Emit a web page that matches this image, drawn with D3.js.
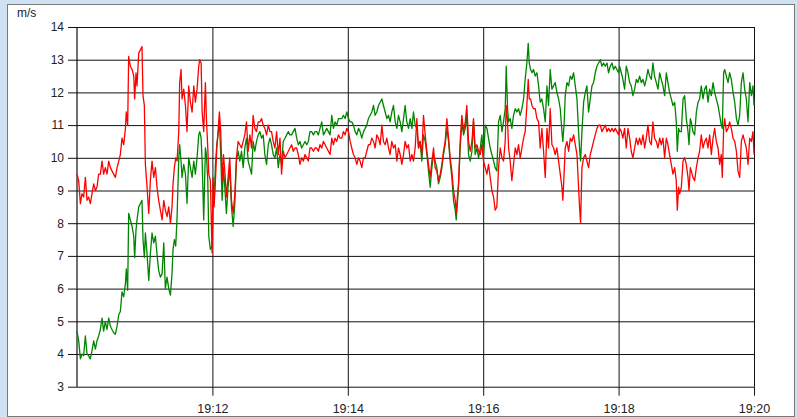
<!DOCTYPE html>
<html><head><meta charset="utf-8">
<script src="https://cdn.jsdelivr.net/npm/d3@7"></script>
<style>
html,body{margin:0;padding:0;background:#cfe2f3;overflow:hidden;}
svg{display:block;}
text{font-family:"Liberation Sans",Arial,Helvetica,sans-serif;}
</style></head><body>
<svg id="chart" width="797" height="417"></svg>
<script>
// ---- data (seconds after 19:10:00) ----
const startTime = "19:10";
const endTime = "19:20";
const unitLabel = "m/s";
const yTicks = [3,4,5,6,7,8,9,10,11,12,13,14];
const xTickLabels = ["19:12","19:14","19:16","19:18","19:20"];

const seconds = [
0,1.5,3.0,4.4,5.9,7.4,8.9,10.3,11.8,13.3,14.8,16.3,17.7,19.2,20.7,22.2,23.6,25.1,26.6,28.1,29.6,31.0,32.5,34.0,35.5,37.0,38.4,39.9,41.4,42.9,
43.7,44.9,45.8,47.3,48.8,50.3,51.1,52.3,53.2,54.7,56.2,57.6,58.5,59.7,60.6,
62.1,63.6,65.0,66.5,68.0,69.5,70.9,72.4,73.9,75.4,76.9,78.3,79.8,81.3,82.8,84.2,
85.1,86.3,87.5,88.7,90.2,91.0,92.2,93.1,
94.6,96.1,97.5,99.0,100.5,102.0,103.5,104.9,106.4,107.9,
108.8,110.0,110.9,112.3,113.8,114.7,115.9,116.8,118.2,119.7,
120.6,121.5,122.7,123.9,125.0,126.2,127.4,128.6,129.8,131.0,
132.4,133.9,135.4,136.9,138.4,
139.9,141.3,142.8,144.3,145.8,147.3,148.7,150.2,151.7,153.2,154.7,156.1,157.6,159.1,160.6,162.1,163.6,165.0,166.5,168.0,169.5,171.0,172.4,173.9,175.4,176.9,178.4,179.9,181.3,182.8,184.3,185.8,187.3,188.7,190.2,191.7,193.2,194.7,196.1,197.6,199.1,200.6,202.1,203.6,205.0,206.5,208.0,209.5,211.0,212.4,213.9,215.4,216.9,218.4,219.9,221.3,222.8,224.3,225.8,227.3,228.7,230.2,231.7,233.2,234.7,236.1,237.6,239.1,
240.6,242.1,243.5,245.0,246.5,248.0,249.5,250.9,252.4,253.9,255.4,256.8,258.3,259.8,261.3,262.8,264.2,265.7,267.2,268.7,270.2,271.6,273.1,274.6,276.1,277.5,279.0,280.5,282.0,283.5,284.9,286.4,287.9,289.4,290.8,292.3,293.8,295.3,296.8,298.2,299.7,301.2,302.7,304.1,305.6,307.1,308.6,310.1,311.5,313.0,314.5,316.0,317.4,318.9,320.4,321.9,323.4,324.8,326.3,327.8,329.3,330.7,332.2,333.7,335.2,
336.1,337.3,
338.1,339.6,341.1,342.6,344.1,345.5,347.0,348.5,350.0,351.4,352.9,354.4,355.9,357.4,358.8,
360.3,361.8,363.3,364.7,366.2,367.7,369.2,370.6,372.1,373.6,375.1,376.6,378.0,379.5,
380.4,381.6,
382.5,383.9,385.4,386.9,388.4,389.9,391.3,392.8,394.3,395.8,397.2,398.7,
399.9,400.8,402.0,
403.2,404.6,406.1,407.6,409.1,410.5,412.0,413.5,415.0,416.5,417.9,419.4,420.9,422.4,423.8,425.3,426.8,428.3,429.8,
430.6,431.8,
432.7,434.2,435.7,437.2,438.6,440.1,441.6,443.1,444.5,
445.4,446.3,
447.5,449.0,450.5,451.9,453.4,454.9,456.4,457.8,459.3,460.8,462.3,463.8,465.2,466.7,468.2,469.7,471.1,472.6,474.1,475.6,477.0,478.5,480.0,
480.9,482.4,483.8,485.3,486.8,488.3,489.8,491.2,492.7,494.2,495.7,497.1,498.6,500.1,501.6,503.1,504.5,506.0,507.5,509.0,510.4,511.9,513.4,514.9,516.4,517.8,519.3,520.8,522.3,523.7,525.2,526.7,528.2,529.7,531.1,
532.0,533.2,
534.1,535.6,537.1,538.5,540.0,541.5,
542.4,543.6,
544.4,545.9,547.4,548.9,550.4,551.8,553.3,554.8,556.3,557.7,559.2,560.7,562.2,563.7,565.1,566.6,568.1,569.6,571.0,
571.9,573.1,
574.0,575.5,577.0,578.4,579.9,581.4,582.9,584.4,585.8,587.3,588.8,590.3,591.7,593.2,594.7,596.2,597.7,599.1,
600.0
];

const red = [
9.5,9.3,8.6,8.9,8.8,9.4,8.7,8.8,8.6,8.9,9.2,9.0,9.1,9.5,9.5,9.9,9.5,9.7,9.5,9.9,9.7,9.6,9.5,9.4,9.7,9.9,10.1,10.6,10.4,10.9,
11.4,11.0,13.1,12.8,12.7,12.5,11.8,12.6,12.2,13.2,13.3,13.4,11.9,11.6,9.8,
9.1,8.3,9.3,9.9,9.4,9.7,9.1,8.7,8.4,8.1,8.7,8.4,8.2,8.5,8.0,8.5,
9.2,9.7,10.0,9.9,10.8,12.3,12.7,11.8,
12.1,11.6,10.8,12.2,11.7,11.4,12.2,11.7,12.1,12.8,
13.0,12.9,11.4,10.8,12.3,11.2,10.3,9.5,9.3,7.1,
9.4,8.5,9.3,10.3,10.8,11.4,10.8,9.3,10.1,9.6,
8.8,9.4,10.0,8.7,8.3,
8.9,10.0,10.5,10.4,10.3,10.5,10.7,11.1,10.2,10.7,10.3,11.3,10.9,10.8,11.1,11.1,11.2,11.0,10.9,10.7,11.0,10.8,10.8,10.5,10.3,10.8,10.1,10.6,9.5,10.2,10.0,10.1,10.2,10.3,10.4,10.2,10.3,10.3,10.1,9.8,10.0,9.9,10.1,10.0,9.9,10.3,10.3,10.2,10.3,10.3,10.2,10.4,10.3,10.5,10.4,10.3,10.2,10.1,10.6,10.4,10.6,10.5,10.7,10.6,10.6,10.8,10.7,10.9,
10.8,10.5,10.3,10.1,10.0,9.8,10.0,9.9,9.7,10.0,10.0,10.2,10.4,10.4,10.6,10.5,10.3,10.7,10.6,10.4,11.0,10.5,10.4,10.6,10.3,10.1,10.5,10.3,10.4,9.9,10.3,10.1,9.8,10.1,10.5,10.3,10.4,9.9,10.1,9.9,10.3,11.2,10.3,10.5,10.1,11.3,10.7,10.2,9.8,9.4,9.9,10.3,9.7,9.6,9.3,9.5,9.8,10.2,10.5,11.2,10.6,10.0,9.6,9.0,8.7,
8.3,8.9,
9.2,10.5,11.3,10.8,11.1,11.6,10.5,10.2,10.5,11.2,10.3,10.4,10.2,10.1,10.4,
9.9,9.7,9.5,9.8,9.4,9.0,8.8,8.4,8.5,9.7,10.3,10.0,9.9,10.5,
11.6,11.1,
10.3,9.9,9.3,9.8,10.3,10.1,10.4,10.0,10.3,10.6,10.8,11.6,
12.4,11.8,11.8,
11.6,11.5,11.5,11.2,11.1,10.3,10.9,10.2,9.4,10.9,10.3,11.5,10.4,10.3,10.1,10.3,9.9,9.5,9.1,
8.7,9.6,
10.3,10.5,10.2,10.6,10.5,10.7,10.4,10.1,9.1,
8.5,8.0,
9.7,10.0,10.1,9.9,9.7,10.1,10.3,10.5,10.7,10.9,11.0,11.0,10.8,10.9,11.0,10.8,10.9,10.8,10.9,10.8,10.9,10.8,10.7,
10.9,10.8,10.6,10.9,10.3,10.9,10.6,10.2,10.0,10.3,10.6,10.4,10.6,10.4,10.7,10.3,10.6,11.0,10.5,10.4,11.1,10.6,10.5,10.3,10.6,10.4,10.6,10.0,10.6,10.4,10.1,9.8,9.5,9.7,9.3,
8.4,9.1,
8.9,9.1,9.9,10.0,9.8,9.4,
9.0,9.7,
9.6,9.4,9.3,9.7,10.0,10.2,10.7,10.3,10.5,10.6,10.3,10.7,10.1,10.6,10.9,10.5,10.3,9.8,10.1,
9.4,10.9,
11.2,10.8,10.9,11.1,10.9,10.6,10.5,10.2,9.6,9.4,10.5,10.7,10.5,10.3,9.8,10.6,10.5,10.8,
10.1
];

const green = [
4.7,4.4,3.85,4.0,3.95,4.55,4.0,3.95,3.85,4.1,4.4,4.15,4.4,4.55,4.75,5.1,4.7,5.0,4.75,5.1,4.85,4.75,4.65,4.6,4.85,5.2,5.3,5.9,5.75,6.15,
6.6,5.95,8.3,8.1,7.9,7.6,6.95,7.8,8.1,8.5,8.6,8.7,7.5,6.95,7.7,
7.05,6.25,7.05,7.7,7.4,7.6,7.05,6.55,6.35,6.45,7.4,6.0,6.35,6.0,5.8,6.45,
7.2,7.5,7.3,8.2,10.0,10.4,9.9,9.4,
9.8,9.5,8.6,10.0,9.7,9.4,9.9,9.5,10.0,10.7,
10.8,10.6,9.9,8.1,10.3,10.1,9.3,7.6,7.2,7.3,
8.5,8.7,9.8,10.4,10.7,11.1,10.1,8.7,9.7,9.1,
8.3,9.1,9.7,8.5,7.9,
8.6,9.9,10.2,9.9,10.2,9.7,10.3,10.6,9.9,9.7,9.5,10.5,10.2,10.5,10.7,10.8,10.6,10.7,10.1,9.8,10.4,10.6,10.4,10.1,10.0,10.3,9.7,10.1,9.8,10.5,10.6,10.7,10.8,10.7,10.7,10.8,10.9,10.6,10.4,10.5,10.3,10.4,10.5,10.4,10.5,10.8,10.8,10.7,10.8,10.8,10.7,10.9,11.1,10.7,10.8,10.9,10.8,10.7,11.3,10.9,11.1,11.0,11.2,11.2,11.2,11.3,11.2,11.4,
11.2,11.1,11.1,11.0,10.8,10.7,10.9,10.8,10.6,10.8,10.9,11.0,11.2,11.3,11.4,11.6,11.3,11.4,11.6,11.7,11.8,11.6,11.4,11.2,11.3,11.1,11.4,11.6,11.1,10.9,11.3,11.1,10.8,11.2,11.6,11.1,10.9,11.2,10.9,11.4,11.0,10.9,10.3,10.5,9.9,10.7,10.5,10.1,9.6,9.1,9.7,10.1,9.9,9.7,9.2,9.4,9.7,10.1,10.4,10.9,10.5,9.9,9.4,8.7,8.4,
8.1,8.7,
9.1,10.3,11.1,10.7,10.9,11.3,10.1,9.9,10.2,11.1,10.1,10.3,10.0,10.3,10.7,
10.0,11.0,10.9,10.6,10.3,10.1,9.9,9.7,9.6,11.1,11.3,10.8,11.1,11.5,
12.8,11.5,
11.1,11.2,10.9,11.3,11.5,11.4,11.5,11.3,11.5,11.8,12.4,12.9,
13.5,12.9,12.7,
12.6,12.7,12.5,12.6,12.2,11.7,11.8,11.5,11.1,12.2,11.6,12.7,12.1,12.2,12.3,12.0,11.8,11.5,10.8,
10.5,11.1,
11.9,12.3,12.2,12.5,12.4,12.6,12.2,11.8,10.8,
10.3,9.9,
10.8,11.7,12.0,12.2,11.4,11.8,12.2,12.3,12.6,12.8,12.9,13.0,12.8,12.9,12.8,12.9,12.6,12.8,12.9,12.7,12.8,12.7,12.6,
12.8,12.6,12.4,12.1,12.8,12.6,12.3,12.2,11.9,12.1,12.4,12.3,12.5,12.3,12.4,12.2,12.4,12.7,12.5,12.4,12.9,12.5,12.3,12.1,12.6,12.4,12.2,11.9,12.6,12.3,12.0,11.8,11.6,11.7,11.1,
10.2,10.9,
10.8,10.8,11.8,11.9,11.2,10.8,
10.4,11.2,
11.1,10.8,10.7,11.4,11.7,11.8,12.2,11.8,12.1,12.2,11.7,12.1,11.9,12.3,12.0,11.8,11.6,11.3,11.0,
10.9,12.6,
12.7,12.5,12.3,12.6,12.4,12.0,11.7,11.2,11.0,11.3,12.3,12.6,12.1,11.8,11.1,12.3,11.9,12.2,
11.6
];

// ---- drawing ----
const svg = d3.select("#chart");
const W = 797, H = 417;
const m = {left: 77, right: 754, top: 27, bottom: 386.7};

svg.append("rect").attr("x",0).attr("y",0).attr("width",W).attr("height",H).attr("fill","#cfe2f3");
svg.append("rect").attr("x",7.5).attr("y",4.5).attr("width",787).attr("height",412)
  .attr("fill","#ffffff").attr("stroke","#7a7a7a").attr("stroke-width",1);

const parseHM = d3.timeParse("%H:%M");
const t0 = parseHM(startTime), t1 = parseHM(endTime);
const toDate = s => new Date(t0.getTime() + s*1000);

const x = d3.scaleTime().domain([t0, t1]).range([m.left, m.right]);
const y = d3.scaleLinear().domain([3, 14]).range([m.bottom, m.top]);

const xTickDates = xTickLabels.map(parseHM);
const fmt = d3.timeFormat("%H:%M");

// grid lines
const gridY = svg.append("g").attr("transform", `translate(${m.left},0)`)
  .call(d3.axisLeft(y).tickValues(yTicks).tickSize(-(m.right-m.left)).tickFormat(""));
gridY.select(".domain").remove();
gridY.selectAll("line").attr("stroke","#111").attr("stroke-width",1);

const gridX = svg.append("g").attr("transform", `translate(0,${m.bottom})`)
  .call(d3.axisBottom(x).tickValues(xTickDates).tickSize(-(m.bottom-m.top)).tickFormat(""));
gridX.select(".domain").remove();
gridX.selectAll("line").attr("stroke","#111").attr("stroke-width",1);

// left axis line
svg.append("line").attr("x1",m.left).attr("x2",m.left).attr("y1",m.top).attr("y2",m.bottom)
  .attr("stroke","#111").attr("stroke-width",1.2);

// axes with labels
const axY = svg.append("g").attr("transform", `translate(${m.left},0)`)
  .call(d3.axisLeft(y).tickValues(yTicks).tickSize(9).tickPadding(4).tickFormat(d3.format("d")));
axY.select(".domain").remove();
axY.selectAll("line").attr("stroke","#111");
axY.selectAll("text").attr("font-size","12px").attr("fill","#222")
  .style("font-family","'Liberation Sans',Arial,sans-serif");

const axX = svg.append("g").attr("transform", `translate(0,${m.bottom})`)
  .call(d3.axisBottom(x).tickValues(xTickDates).tickSize(9).tickPadding(8).tickFormat(fmt));
axX.select(".domain").remove();
axX.selectAll("line").attr("stroke","#111");
axX.selectAll("text").attr("font-size","12.5px").attr("fill","#222")
  .style("font-family","'Liberation Sans',Arial,sans-serif");

svg.append("text").attr("x",17).attr("y",17).text(unitLabel)
  .attr("font-size","12px").attr("fill","#222");

// series
const line = d3.line().x((d,i)=>x(toDate(seconds[i]))).y(d=>y(d));
svg.append("path").datum(green).attr("d", line).attr("fill","none")
  .attr("stroke","#008500").attr("stroke-width",1.3).attr("stroke-linejoin","round");
svg.append("path").datum(red).attr("d", line).attr("fill","none")
  .attr("stroke","#ff0000").attr("stroke-width",1.3).attr("stroke-linejoin","round");
</script>
</body></html>
